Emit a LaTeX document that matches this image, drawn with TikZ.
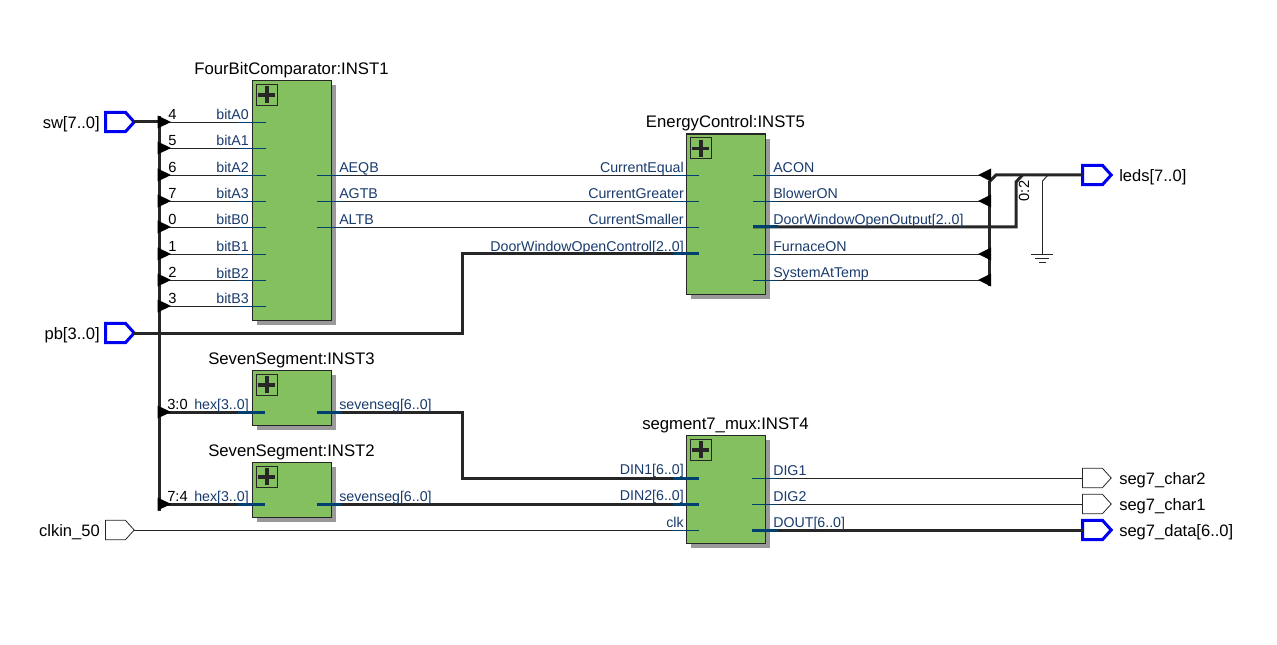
\documentclass[tikz,border=0pt]{standalone}
\usepackage{fontspec}
\setmainfont{Liberation Sans}
\usetikzlibrary{shapes.symbols, shadows}
\definecolor{blockgreen}{RGB}{132,192,96}
\definecolor{shadowgray}{RGB}{153,153,153}
\definecolor{wirecolor}{RGB}{38,38,38}
\definecolor{pincolor}{RGB}{0,64,112}
\definecolor{pintext}{RGB}{24,58,108}
\definecolor{portblue}{RGB}{0,0,240}
\tikzset{
	block/.style={draw=wirecolor, line width=0.9pt, fill=blockgreen, anchor=north west, inner sep=0, outer sep=0,
		minimum width=59.5pt, drop shadow={shadow xshift=3.4pt, shadow yshift=-3.4pt, fill=shadowgray, opacity=1}},
	plusbox/.style={draw=wirecolor, line width=0.75pt, anchor=north west, inner sep=0, outer sep=0, minimum size=15.5pt},
	title/.style={font=\fontsize{12.55}{15}\selectfont, anchor=base, inner sep=0},
	portlabel/.style={font=\fontsize{12.4}{15}\selectfont, anchor=base, inner sep=0},
	pinlabel/.style={font=\fontsize{10.65}{13}\selectfont, text=pintext, anchor=base, inner sep=0},
	indexlabel/.style={font=\fontsize{11}{13}\selectfont, anchor=base west, inner sep=0},
	port/.style={signal, signal to=east, signal from=nowhere, signal pointer angle=96, inner sep=0, outer sep=0,
		minimum width=21.5pt, minimum height=14.5pt, fill=white},
	busport/.style={port, draw=portblue, line width=2.25pt},
	wireport/.style={port, draw=wirecolor, line width=0.6pt},
	wire/.style={draw=wirecolor, line width=0.7pt},
	bus/.style={draw=wirecolor, line width=2.25pt},
	pinstub/.style={draw=pincolor, line width=0.7pt},
	busstub/.style={draw=pincolor, line width=2.25pt},
}
\newcommand{\plusmark}[1]{
	\draw[wirecolor, line width=2.6pt] (#1.center) ++(-8.5,0) -- ++(17,0);
	\draw[wirecolor, line width=2.6pt] (#1.center) ++(0,-8.5) -- ++(0,17);
}
\begin{document}
\begin{tikzpicture}[x=0.75pt, y=-0.75pt]
	\useasboundingbox (0,0) rectangle (1277,645);
	% blocks
	\node[block, minimum height=180pt] (inst1) at (252.5,80.5) {};
	\node[block, minimum height=120.5pt] (inst5) at (686.5,134) {};
	\node[block, minimum height=41.5pt] (inst3) at (252.5,370.5) {};
	\node[block, minimum height=41.5pt] (inst2) at (252.5,462.5) {};
	\node[block, minimum height=81pt] (inst4) at (686.5,435.5) {};
	\foreach \blk in {inst1, inst5, inst3, inst2, inst4} {
		\node[plusbox] (\blk-plus) at ([xshift=3pt, yshift=-3pt]\blk.north west) {};
		\plusmark{\blk-plus}
	}
	% titles
	\node[title] (title1) at (291.5,75) {FourBitComparator:INST1};
	\node[title] (title5) at (725.5,128) {EnergyControl:INST5};
	\node[title] (title3) at (291.5,364) {SevenSegment:INST3};
	\node[title] (title2) at (291.5,456) {SevenSegment:INST2};
	\node[title] (title4) at (725.5,429) {segment7\_mux:INST4};
	% ports
	\node[busport] (sw) at (115.5,122) {};
	\node[busport] (pb) at (115.5,333) {};
	\node[wireport] (clkin) at (115.5,530) {};
	\node[busport] (leds) at (1092.5,175) {};
	\node[wireport] (char2) at (1092.5,478) {};
	\node[wireport] (char1) at (1092.5,504) {};
	\node[busport] (data) at (1092.5,530) {};
	\node[portlabel, anchor=base east] (swtext) at (100,128.5) {sw[7..0]};
	\node[portlabel, anchor=base east] (pbtext) at (100,339.5) {pb[3..0]};
	\node[portlabel, anchor=base east] (clkintext) at (100,536.5) {clkin\_50};
	\node[portlabel, anchor=base west] (ledstext) at (1119,181.5) {leds[7..0]};
	\node[portlabel, anchor=base west] (char2text) at (1119,484.5) {seg7\_char2};
	\node[portlabel, anchor=base west] (char1text) at (1119,510.5) {seg7\_char1};
	\node[portlabel, anchor=base west] (datatext) at (1119,536.5) {seg7\_data[6..0]};
	% sw bus with its taps
	\coordinate (swbus) at (159,122);
	\coordinate (swend) at (159,510.5);
	\draw[bus] (sw.east) -- (swbus);
	\draw[bus] (159,116.5) -- (swend);
	\foreach \pin/\y/\up/\idx in {bitA0/122/2/4, bitA1/148/2/5, bitA2/175/2/6, bitA3/201/2/7, bitB0/227/2/0, bitB1/254/2/1, bitB2/280/2/2, bitB3/306/3/3} {
		\coordinate (in-\pin) at (266,\y);
		\coordinate (tap-\pin) at (159,\y);
		\draw[wire] (tap-\pin) -- (in-\pin);
		\draw[pinstub] (238,\y) -- (in-\pin);
		\fill[black] (tap-\pin) +(-1.5,-6.5) -- +(12,0) -- +(-1.5,6.5) -- cycle;
		\node[pinlabel, anchor=base east] (label-\pin) at (249,\y-\up) {\pin};
		\node[indexlabel] (index-\pin) at (168,\y-2.5) {\idx};
	}
	% seven segment inputs
	\foreach \blk/\y/\idx in {inst3/412/3:0, inst2/504/7:4} {
		\coordinate (in-\blk) at (265,\y);
		\coordinate (tap-\blk) at (159,\y);
		\draw[bus] (tap-\blk) -- (in-\blk);
		\draw[busstub] (238,\y) -- (in-\blk);
		\fill[black] (tap-\blk) +(-1.5,-6.5) -- +(12,0) -- +(-1.5,6.5) -- cycle;
		\node[pinlabel, anchor=base east] (label-\blk) at (249,\y-2.5) {hex[3..0]};
		\node[indexlabel] (index-\blk) at (167,\y-3) {\idx};
	}
	% comparator to energy control
	\foreach \out/\in/\y in {AEQB/CurrentEqual/175, AGTB/CurrentGreater/201, ALTB/CurrentSmaller/227} {
		\coordinate (out-\out) at (317,\y);
		\coordinate (in-\in) at (699,\y);
		\draw[wire] (out-\out) -- (in-\in);
		\draw[pinstub] (out-\out) -- (342,\y);
		\draw[pinstub] (673,\y) -- (in-\in);
		\node[pinlabel, anchor=base west] (label-\out) at (339,\y-2) {\out};
		\node[pinlabel, anchor=base east] (label-\in) at (684,\y-2) {\in};
	}
	% door control from pb
	\coordinate (in-door) at (699,254);
	\coordinate (pbturn) at (462,333);
	\coordinate (doorturn) at (462,254);
	\draw[bus] (pb.east) -- (pbturn) -- (doorturn) -- (in-door);
	\draw[busstub] (673,254) -- (in-door);
	\node[pinlabel, anchor=base east] (label-door) at (684,252) {DoorWindowOpenControl[2..0]};
	% energy control outputs
	\coordinate (ledsjoin) at (996,175);
	\coordinate (ledsbus) at (989.5,181.5);
	\coordinate (ledsend) at (989.5,286);
	\draw[bus] (ledsbus) -- (ledsend);
	\draw[bus] (ledsbus) -- (ledsjoin) -- (leds.west);
	\foreach \out/\y/\up in {ACON/175/2, BlowerON/201/2, FurnaceON/254/2, SystemAtTemp/280/3} {
		\coordinate (out-\out) at (753,\y);
		\coordinate (tap-\out) at (989.5,\y);
		\draw[wire] (out-\out) -- (tap-\out);
		\draw[pinstub] (out-\out) -- (778,\y);
		\fill[black] (tap-\out) +(1.5,-6.5) -- +(-11.5,0) -- +(1.5,6.5) -- cycle;
		\node[pinlabel, anchor=base west] (label-\out) at (773,\y-\up) {\out};
	}
	\coordinate (out-door) at (753,227);
	\coordinate (doorup) at (1016,227);
	\coordinate (doorjoin) at (1016,182);
	\coordinate (doortop) at (1022.5,175);
	\draw[bus] (out-door) -- (doorup) -- (doorjoin) -- (doortop);
	\draw[busstub] (out-door) -- (778,227);
	\node[pinlabel, anchor=base west] (label-outdoor) at (773,225) {DoorWindowOpenOutput[2..0]};
	\node[indexlabel, rotate=90, anchor=base] (index-door) at (1029,191) {0:2};
	% ground
	\coordinate (gndtop) at (1048,175);
	\coordinate (gndknee) at (1042.5,181);
	\coordinate (gnd) at (1042.5,254);
	\draw[wire] (gndtop) -- (gndknee) -- (gnd);
	\draw[wire] (1031,254) -- (1053,254);
	\draw[wire] (1035,258.5) -- (1049,258.5);
	\draw[wire] (1039,262.5) -- (1046,262.5);
	% seven segment outputs
	\coordinate (out-inst3) at (317,412);
	\coordinate (out-inst2) at (317,504);
	\coordinate (in-din1) at (699,478);
	\coordinate (in-din2) at (699,504);
	\coordinate (segturn) at (462,412);
	\coordinate (din1turn) at (462,478);
	\draw[bus] (out-inst3) -- (segturn) -- (din1turn) -- (in-din1);
	\draw[bus] (out-inst2) -- (in-din2);
	\draw[busstub] (out-inst3) -- (342,412);
	\draw[busstub] (out-inst2) -- (342,504);
	\draw[busstub] (673,478) -- (in-din1);
	\draw[busstub] (673,504) -- (in-din2);
	\node[pinlabel, anchor=base west] (label-seg3) at (339,409.5) {sevenseg[6..0]};
	\node[pinlabel, anchor=base west] (label-seg2) at (339,501.5) {sevenseg[6..0]};
	\node[pinlabel, anchor=base east] (label-din1) at (684,474.5) {DIN1[6..0]};
	\node[pinlabel, anchor=base east] (label-din2) at (684,500.5) {DIN2[6..0]};
	% clock
	\coordinate (in-clk) at (699,530);
	\draw[wire] (clkin.east) -- (in-clk);
	\draw[pinstub] (673,530) -- (in-clk);
	\node[pinlabel, anchor=base east] (label-clk) at (684,527) {clk};
	% mux outputs
	\coordinate (out-dig1) at (752,478);
	\coordinate (out-dig2) at (752,504);
	\coordinate (out-dout) at (752,530);
	\draw[wire] (out-dig1) -- (char2.west);
	\draw[wire] (out-dig2) -- (char1.west);
	\draw[bus] (out-dout) -- (data.west);
	\draw[pinstub] (out-dig1) -- (778,478);
	\draw[pinstub] (out-dig2) -- (778,504);
	\draw[busstub] (out-dout) -- (778,530);
	\node[pinlabel, anchor=base west] (label-dig1) at (773,475) {DIG1};
	\node[pinlabel, anchor=base west] (label-dig2) at (773,501) {DIG2};
	\node[pinlabel, anchor=base west] (label-dout) at (773,527) {DOUT[6..0]};
\end{tikzpicture}
\end{document}
